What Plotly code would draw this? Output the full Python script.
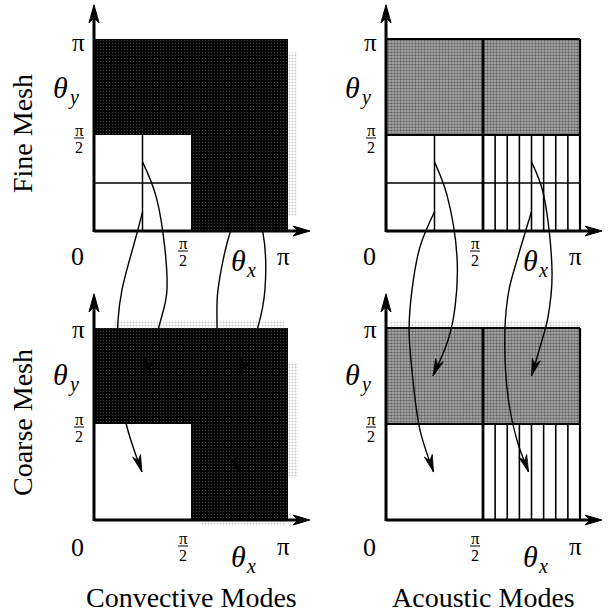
import plotly.graph_objects as go

# ---------------- data (all angles in units of pi) ----------------
EDGES = [0.0, 0.5, 1.0]                      # 0, pi/2, pi
FINE_GRID = [0.25]                            # extra fine-mesh grid line (pi/4)
STRIPES = [0.5625, 0.625, 0.6875, 0.75, 0.8125, 0.875, 0.9375, 1.0]
COLUMNS = ["Convective Modes", "Acoustic Modes"]
ROWS = ["Fine Mesh", "Coarse Mesh"]

# mapping curves (fine-panel coordinates, coarse panel lies 1.505 below)
cv_c1_x = [0.25, 0.222, 0.144, 0.124, 0.124, 0.170, 0.247]
cv_c1_y = [0.10, -0.010, -0.307, -0.464, -0.776, -1.021, -1.255]
cv_c2_x = [0.25, 0.325, 0.376, 0.340, 0.300, 0.262]
cv_c2_y = [0.36, 0.161, -0.307, -0.479, -0.62, -0.755]
cv_c3_x = [0.75, 0.701, 0.639, 0.634, 0.650, 0.690, 0.745]
cv_c3_y = [0.10, -0.010, -0.307, -0.479, -0.85, -1.08, -1.255]
cv_c4_x = [0.75, 0.871, 0.881, 0.845, 0.80, 0.75]
cv_c4_y = [0.36, -0.010, -0.307, -0.50, -0.62, -0.755]

ac_c1_x = [0.25, 0.175, 0.134, 0.119, 0.139, 0.175, 0.245]
ac_c1_y = [0.10, -0.083, -0.307, -0.516, -0.776, -1.036, -1.255]
ac_c2_x = [0.25, 0.314, 0.366, 0.356, 0.320, 0.242]
ac_c2_y = [0.36, 0.188, -0.135, -0.396, -0.568, -0.755]
ac_c3_x = [0.75, 0.680, 0.634, 0.613, 0.629, 0.675, 0.735]
ac_c3_y = [0.10, -0.135, -0.307, -0.516, -0.865, -1.089, -1.255]
ac_c4_x = [0.75, 0.809, 0.856, 0.835, 0.794, 0.75]
ac_c4_y = [0.36, 0.203, -0.219, -0.448, -0.604, -0.755]

CURVES = {0: [(cv_c1_x, cv_c1_y), (cv_c2_x, cv_c2_y), (cv_c3_x, cv_c3_y), (cv_c4_x, cv_c4_y)],
          1: [(ac_c1_x, ac_c1_y), (ac_c2_x, ac_c2_y), (ac_c3_x, ac_c3_y), (ac_c4_x, ac_c4_y)]}

# light halftone fringes of the print (col, row, x0, x1, y0, y1)
FRINGES = [(0, 0, 1.0, 1.045, 0.08, 0.93),
           (0, 1, 0.10, 0.98, 1.0, 1.04),
           (0, 1, 1.0, 1.05, 0.22, 0.82),
           (0, 1, 0.55, 0.99, -0.03, 0.0),
           (1, 1, 0.02, 1.0, 1.0, 1.04)]

# ---------------- layout constants ----------------
W, H = 612, 614
SX, SY = 194.0, 192.0          # pixels per pi
OX, OY = 94.0, 231.0           # pixel origin of top-left panel
COL_PX, ROW_PX = 292.0, 289.0
CX, RY = COL_PX / SX, ROW_PX / SY
FONT = "Liberation Serif, Times New Roman, serif"


def G(col, row, tx, ty):
    return tx + col * CX, ty - row * RY


def P(xp, yp):
    return (xp - OX) / SX, (OY - yp) / SY


fig = go.Figure()
shapes, annos = [], []


def fill_poly(col, row, xs, ys, bg, fg, size, sol):
    pts = [G(col, row, a, b) for a, b in zip(xs, ys)]
    fig.add_trace(go.Scatter(
        x=[p[0] for p in pts] + [pts[0][0]], y=[p[1] for p in pts] + [pts[0][1]], mode="lines",
        line=dict(width=0), fill="toself", fillcolor=bg,
        fillpattern=dict(shape=".", fgcolor=fg, bgcolor=bg, size=size, solidity=sol),
        hoverinfo="skip", showlegend=False))


def fill_rect(col, row, x0, x1, y0, y1, bg, fg, size, sol):
    fill_poly(col, row, [x0, x1, x1, x0], [y0, y0, y1, y1], bg, fg, size, sol)


def seg(col, row, x0, y0, x1, y1, w):
    X0, Y0 = G(col, row, x0, y0)
    X1, Y1 = G(col, row, x1, y1)
    shapes.append(dict(type="line", xref="x", yref="y", x0=X0, y0=Y0, x1=X1, y1=Y1,
                       line=dict(color="black", width=w)))


lo, mid, hi = EDGES

# 1) light fringes and the grey acoustic band (below the curves)
for c, r, a0, a1, b0, b1 in FRINGES:
    fill_rect(c, r, a0, a1, b0, b1, "#ffffff", "#9a9a9a", 3, 0.35)
for row in range(2):
    fill_rect(1, row, lo, hi, mid, hi, "#b4b4b4", "#1c1c1c", 3, 0.55)

# 2) curves
for col in range(2):
    for cx, cy in CURVES[col]:
        gx = [G(col, 0, a, b)[0] for a, b in zip(cx, cy)]
        gy = [G(col, 0, a, b)[1] for a, b in zip(cx, cy)]
        fig.add_trace(go.Scatter(x=gx, y=gy, mode="lines",
                                 line=dict(color="black", width=1.4, shape="spline", smoothing=1.0),
                                 hoverinfo="skip", showlegend=False))
        dxp = (gx[-1] - gx[-2]) * SX
        dyp = (gy[-1] - gy[-2]) * SY
        n = (dxp ** 2 + dyp ** 2) ** 0.5
        ux, uy = dxp / n, dyp / n
        vx, vy = -uy, ux
        L, hw, notch = 17.0, 4.2, 12.0
        tx, ty = gx[-1], gy[-1]
        pts = [(0, 0), (-L * ux + hw * vx, -L * uy + hw * vy), (-notch * ux, -notch * uy),
               (-L * ux - hw * vx, -L * uy - hw * vy)]
        path = "M" + " L".join(f"{tx + px / SX},{ty + py / SY}" for px, py in pts) + " Z"
        shapes.append(dict(type="path", xref="x", yref="y", path=path,
                           fillcolor="black", line=dict(color="black", width=0.8)))

# 3) dark convective L-shaped region (hides the curves passing beneath it)
for row in range(2):
    fill_poly(0, row, [lo, lo, hi, hi, mid, mid], [mid, hi, hi, lo, lo, mid],
              "#060606", "#ffffff", 3, 0.07)

# grid lines
for col in range(2):
    for row in range(2):
        if col == 0:
            if row == 0:
                for g in FINE_GRID:
                    seg(col, row, g, lo, g, mid, 1.5)
                    seg(col, row, lo, g, mid, g, 1.5)
        else:
            for s in STRIPES:
                seg(col, row, s, lo, s, mid, 1.6)
            if row == 0:
                for g in FINE_GRID:
                    seg(col, row, g, lo, g, mid, 1.5)
                    seg(col, row, lo, g, hi, g, 1.5)
            seg(col, row, lo, mid, hi, mid, 2.2)
            seg(col, row, lo, hi, hi, hi, 2.2)
            seg(col, row, hi, lo, hi, hi, 2.2)
            seg(col, row, mid, lo, mid, hi, 2.8)

# axes with arrow heads
for col in range(2):
    for row in range(2):
        ox, oy = G(col, row, 0, 0)
        xt, _ = G(col, row, 1.113, 0)
        _, yt = G(col, row, 0, 1.178)
        shapes.append(dict(type="line", xref="x", yref="y", x0=ox, y0=oy, x1=xt - 8 / SX, y1=oy,
                           line=dict(color="black", width=3)))
        shapes.append(dict(type="line", xref="x", yref="y", x0=ox, y0=oy - 1 / SY, x1=ox, y1=yt - 8 / SY,
                           line=dict(color="black", width=3)))
        hx = f"M{xt},{oy} L{xt - 17 / SX},{oy + 5 / SY} L{xt - 12 / SX},{oy} L{xt - 17 / SX},{oy - 5 / SY} Z"
        hy = f"M{ox},{yt} L{ox - 5 / SX},{yt - 18 / SY} L{ox},{yt - 13 / SY} L{ox + 5 / SX},{yt - 18 / SY} Z"
        for p in (hx, hy):
            shapes.append(dict(type="path", xref="x", yref="y", path=p,
                               fillcolor="black", line=dict(color="black", width=1)))


def text(xp, yp, t, size, angle=0):
    x, y = P(xp, yp)
    annos.append(dict(x=x, y=y, xref="x", yref="y", text=t, showarrow=False,
                      xanchor="center", yanchor="middle", textangle=angle,
                      font=dict(family=FONT, size=size, color="black")))


def frac(xp, yp):
    text(xp, yp - 8, "π", 17)
    text(xp, yp + 9, "2", 16)
    x0, y0 = P(xp - 5, yp)
    x1, _ = P(xp + 5, yp)
    shapes.append(dict(type="line", xref="x", yref="y", x0=x0, y0=y0, x1=x1, y1=y0,
                       line=dict(color="black", width=1)))


def theta(xp, yp, sub):
    text(xp - 4, yp - 3, "<i>θ</i>", 30)
    text(xp + 9, yp + 7, f"<i>{sub}</i>", 20)


row_off = {0: dict(ypi=-189, thy=-141, yfr=-93, zero=25, xfr=20, thx=32, xpi=25),
           1: dict(ypi=-191, thy=-143, yfr=-93, zero=27, xfr=26, thx=39, xpi=26)}
for col in range(2):
    for row in range(2):
        ox = OX + col * COL_PX
        oy = OY + row * ROW_PX
        o = row_off[row]
        text(ox - 16, oy + o["ypi"], "π", 25)
        theta(ox - 30, oy + o["thy"], "y")
        frac(ox - 15, oy + o["yfr"])
        text(ox - 17, oy + o["zero"], "0", 26)
        frac(ox + 89, oy + o["xfr"])
        theta(ox + 148, oy + o["thx"], "x")
        text(ox + 189, oy + o["xpi"], "π", 25)

for row, lab in enumerate(ROWS):
    text(22, OY - 97 + row * ROW_PX, lab, 28, angle=-90)
for col, lab in enumerate(COLUMNS):
    text(OX + 97 + col * COL_PX, 597, lab, 28)

x0r, y1r = P(0, 0)
x1r, y0r = P(W, H)
fig.update_layout(
    width=W, height=H, margin=dict(l=0, r=0, t=0, b=0),
    paper_bgcolor="white", plot_bgcolor="white",
    xaxis=dict(range=[x0r, x1r], visible=False, fixedrange=True),
    yaxis=dict(range=[y0r, y1r], visible=False, fixedrange=True),
    shapes=shapes, annotations=annos, showlegend=False,
)
fig.write_html("out.html", config={"displayModeBar": False},
               post_script="document.body.style.margin='0';")
